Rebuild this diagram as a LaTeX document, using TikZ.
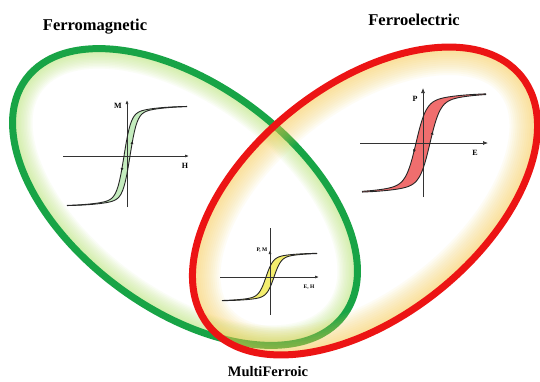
\documentclass[tikz,border=0pt]{standalone}
\usepackage{fontspec}
\setmainfont{Liberation Serif}
\usetikzlibrary{arrows.meta,decorations.markings}
\definecolor{gr}{RGB}{24,164,70}
\definecolor{rd}{RGB}{236,20,20}
\definecolor{grglow}{RGB}{185,230,115}
\definecolor{rdglow}{RGB}{250,205,80}
\definecolor{grfill}{RGB}{196,236,190}
\definecolor{rdfill}{RGB}{240,110,110}
\definecolor{yefill}{RGB}{244,238,110}
\begin{document}
\begin{tikzpicture}[x=1pt,y=-1pt,
  declare function={
    fa(\u)=42*tanh(\u/7)+8*tanh(\u/35);
    fb(\u)=40*tanh(\u/10)+10*tanh(\u/45);
    fc(\u)=19*tanh(\u/7)+5*tanh(\u/30);
  },
  title/.style={font=\bfseries\fontsize{16.5}{18}\selectfont, inner sep=0pt},
  axlbl/.style={font=\bfseries\fontsize{8}{9}\selectfont, inner sep=0pt},
  smlbl/.style={font=\bfseries\fontsize{5.5}{6}\selectfont, inner sep=0pt},
  axis/.style={draw=black!80, line width=0.7pt},
  curve/.style={draw=black!85, line width=0.9pt},
  brdown/.style={curve, postaction={decorate}, decoration={markings, mark=at position 0.6 with {\arrow{Latex[length=3.5pt,width=3pt]}}}},
  ring/.style={line width=7pt}
]
\useasboundingbox (0,0) rectangle (540,381);
\fill[white] (0,0) rectangle (540,381);

% green glow
\begin{scope}
  \clip[rotate around={-36.6:(185,197)}] (185,197) ellipse [x radius=198pt, y radius=112pt];
  \foreach \w in {4,7,...,40}
    \draw[grglow, line width=\w pt, opacity=0.065, rotate around={-36.6:(185,197)}] (185,197) ellipse [x radius=198pt, y radius=112pt];
\end{scope}
% green ring
\draw[gr, ring, rotate around={-36.6:(185,197)}] (185,197) ellipse [x radius=198pt, y radius=112pt];

% red glow
\begin{scope}
  \clip[rotate around={38.4:(365,201)}] (365,201) ellipse [x radius=200pt, y radius=116pt];
  \foreach \w in {4,8,...,56}
    \draw[rdglow, line width=\w pt, opacity=0.06, rotate around={38.4:(365,201)}] (365,201) ellipse [x radius=200pt, y radius=116pt];
\end{scope}
% red ring
\draw[rd, ring, rotate around={38.4:(365,201)}] (365,201) ellipse [x radius=200pt, y radius=116pt];

% ---------- Plot 1: M-H ----------
\fill[grfill] plot[domain=67:187, samples=90] (\x,{156-fa(\x-124)}) -- plot[domain=187:67, samples=90] (\x,{156-fa(\x-130)}) -- cycle;
\draw[axis, -{Latex[length=4pt,width=3pt]}] (63,156) -- (189,156);
\draw[axis, -{Latex[length=4pt,width=3pt]}] (127,207) -- (127,100);
\draw[brdown] plot[domain=187:67, samples=90] (\x,{156-fa(\x-124)});
\draw[brdown] plot[domain=67:187, samples=90] (\x,{156-fa(\x-130)});
\node[axlbl] (M) at (118,106) {M};
\node[axlbl] (H) at (185,166) {H};

% ---------- Plot 2: P-E ----------
\fill[rdfill] plot[domain=362:486, samples=90] (\x,{143-fb(\x-416)}) -- plot[domain=486:362, samples=90] (\x,{143-fb(\x-430)}) -- cycle;
\draw[axis, -{Latex[length=5pt,width=4pt]}] (360,143) -- (488,143);
\draw[axis, -{Latex[length=5pt,width=4pt]}] (423,197) -- (423,88);
\draw[brdown] plot[domain=486:362, samples=90] (\x,{143-fb(\x-416)});
\draw[brdown] plot[domain=362:486, samples=90] (\x,{143-fb(\x-430)});
\node[axlbl] (P) at (415,99) {P};
\node[axlbl] (E) at (475,153) {E};

% ---------- Plot 3: P,M - E,H ----------
\fill[yefill] plot[domain=222:317, samples=80] (\x,{277-fc(\x-266)}) -- plot[domain=317:222, samples=80] (\x,{277-fc(\x-274)}) -- cycle;
\draw[axis, -{Latex[length=4pt,width=3pt]}] (220,277) -- (319,277);
\draw[axis] (270,228) -- (270,315);
\draw[axis, -{Latex[length=4pt,width=3pt]}] (270,262) -- (270,250);
\draw[curve] plot[domain=317:222, samples=80] (\x,{277-fc(\x-266)});
\draw[curve] plot[domain=222:317, samples=80] (\x,{277-fc(\x-274)});
\node[smlbl] (PM) at (262,250) {P, M};
\node[smlbl] (EH) at (309,287) {E, H};

% ---------- titles ----------
\node[title] (fm) at (95,27) {Ferromagnetic};
\node[title] (fe) at (414,20) {Ferroelectric};
\node[title, font=\bfseries\fontsize{14.5}{16}\selectfont] (mf) at (268,372) {MultiFerroic};
\end{tikzpicture}
\end{document}
